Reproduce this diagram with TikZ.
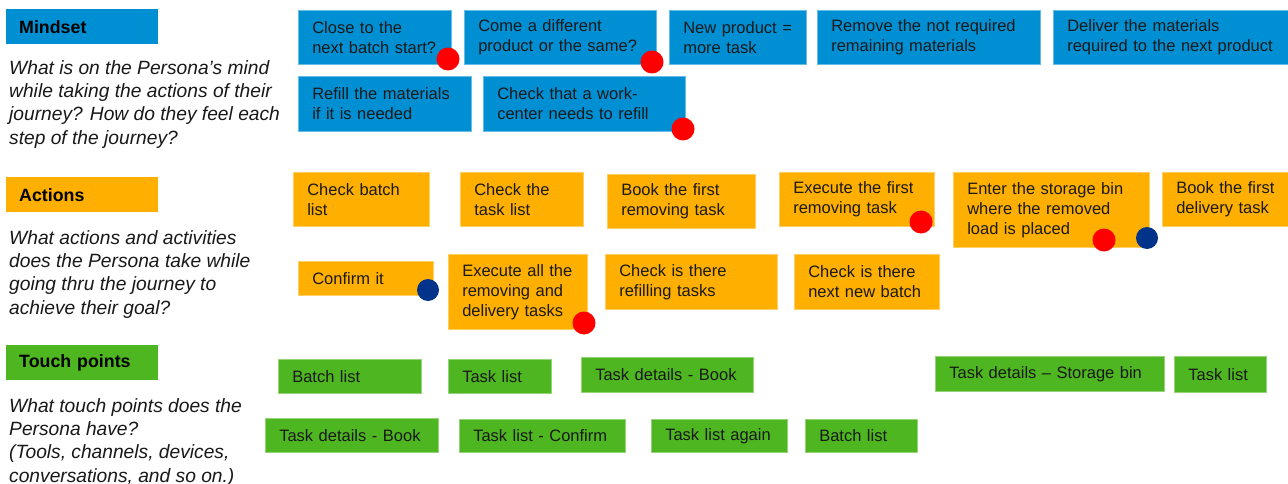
\documentclass[tikz,border=0pt]{standalone}
\usepackage{fontspec}
\setmainfont{Liberation Sans}
\usepackage{tikz}
\usetikzlibrary{positioning}

\definecolor{mindblue}{RGB}{0,143,211}
\definecolor{actorange}{RGB}{255,175,0}
\definecolor{touchgreen}{RGB}{78,182,32}
\definecolor{dotred}{RGB}{255,0,0}
\definecolor{dotnavy}{RGB}{0,51,137}

\begin{document}
\begin{tikzpicture}[x=1pt, y=-1pt,
    card/.style={rectangle, anchor=north west, align=left, inner xsep=14pt, inner ysep=0pt, line width=0.6pt, text=black!90, font=\fontsize{16.5}{20}\selectfont},
    mindcard/.style={card, fill=mindblue, draw=mindblue!60!white},
    actcard/.style={card, fill=actorange, draw=actorange!60!white},
    touchcard/.style={card, fill=touchgreen, draw=touchgreen!60!white},
    header/.style={rectangle, anchor=north west, align=left, inner xsep=13pt, inner ysep=0pt, text width=126pt, minimum height=35pt, text=black, font=\fontsize{17.8}{20}\selectfont\bfseries},
    question/.style={align=left, inner sep=0pt, text=black!90, font=\fontsize{19.2}{23.2}\selectfont\itshape},
    reddot/.style={circle, fill=dotred, inner sep=0pt, minimum size=23pt},
    navydot/.style={circle, fill=dotnavy, inner sep=0pt, minimum size=22pt}]

    \path[use as bounding box, fill=white] (0,0) rectangle (1288,484);

    % Row headers on the left
    \node [header, fill=mindblue] (mindset) at (6,9) {Mindset};
    \node [question, below right=16pt and 3pt of mindset.south west] (mindset-q) {
        What is on the Persona’s mind\\
        while taking the actions of their\\
        journey? How do they feel each\\
        step of the journey?
    };

    \node [header, fill=actorange] (actions) at (6,177) {Actions};
    \node [question, below right=18pt and 3pt of actions.south west] (actions-q) {
        What actions and activities\\
        does the Persona take while\\
        going thru the journey to\\
        achieve their goal?
    };

    \node [header, fill=touchgreen] (touch) at (6,345) {Touch points};
    \node [question, below right=18pt and 3pt of touch.south west] (touch-q) {
        What touch points does the\\
        Persona have?\\
        (Tools, channels, devices,\\
        conversations, and so on.)
    };

    % Mindset cards
    \node [mindcard, text width=125pt, minimum height=54pt] (close-batch) at (298,10) {Close to the\\next batch start?};
    \node [mindcard, text width=164pt, minimum height=54pt] (same-product) at (464,10) {Come a different\\product or the same?};
    \node [mindcard, text width=109pt, minimum height=54pt] (new-product) at (669,10) {New product =\\more task};
    \node [mindcard, text width=195pt, minimum height=54pt] (remove-rest) at (817,10) {Remove the not required\\remaining materials};
    \node [mindcard, text width=207pt, minimum height=54pt] (deliver-next) at (1053,10) {Deliver the materials\\required to the next product};
    \node [mindcard, text width=145pt, minimum height=55pt] (refill) at (298,76) {Refill the materials\\if it is needed};
    \node [mindcard, text width=174pt, minimum height=55pt] (check-refill) at (483,76) {Check that a work-\\center needs to refill};

    % Actions cards
    \node [actcard, text width=108pt, minimum height=54pt] (check-batch) at (293,172) {Check batch\\list};
    \node [actcard, text width=95pt, minimum height=54pt] (check-tasks) at (460,172) {Check the\\task list};
    \node [actcard, text width=120pt, minimum height=54pt] (book-remove) at (607,174) {Book the first\\removing task};
    \node [actcard, text width=127pt, minimum height=54pt] (exec-remove) at (779,172) {Execute the first\\removing task};
    \node [actcard, text width=168pt, minimum height=75pt] (enter-bin) at (953,172) {Enter the storage bin\\where the removed\\load is placed};
    \node [actcard, text width=112pt, minimum height=54pt] (book-deliver) at (1162,172) {Book the first\\delivery task};
    \node [actcard, text width=107pt, minimum height=34pt] (confirm) at (298,261) {Confirm it};
    \node [actcard, text width=111pt, minimum height=75pt] (exec-all) at (448,254) {Execute all the\\removing and\\delivery tasks};
    \node [actcard, text width=144pt, minimum height=55pt] (check-refilling) at (605,254) {Check is there\\refilling tasks};
    \node [actcard, text width=117pt, minimum height=55pt] (check-next) at (794,254) {Check is there\\next new batch};

    % Touch point cards
    \node [touchcard, text width=115pt, minimum height=34pt] (tp-batch) at (278,359) {Batch list};
    \node [touchcard, text width=75pt, minimum height=34pt] (tp-tasks) at (448,359) {Task list};
    \node [touchcard, text width=144pt, minimum height=35pt] (tp-book) at (581,357) {Task details - Book};
    \node [touchcard, text width=201pt, minimum height=35pt] (tp-bin) at (935,356) {Task details – Storage bin};
    \node [touchcard, text width=64pt, minimum height=36pt] (tp-tasks-end) at (1174,356) {Task list};
    \node [touchcard, text width=145pt, minimum height=34pt] (tp-book-2) at (265,418) {Task details - Book};
    \node [touchcard, text width=138pt, minimum height=33pt] (tp-confirm) at (459,419) {Task list - Confirm};
    \node [touchcard, text width=108pt, minimum height=33pt] (tp-again) at (651,419) {Task list again};
    \node [touchcard, text width=84pt, minimum height=33pt] (tp-batch-2) at (805,419) {Batch list};

    % Dots (pain points and highlights)
    \node [reddot] (dot-close) at (448,59) {};
    \node [reddot] (dot-same) at (652,62) {};
    \node [reddot] (dot-refill) at (683,129) {};
    \node [reddot] (dot-exec) at (921,222) {};
    \node [reddot] (dot-bin) at (1104,240) {};
    \node [navydot] (dot-bin-2) at (1147,238) {};
    \node [navydot] (dot-confirm) at (428,290) {};
    \node [reddot] (dot-exec-all) at (584,323) {};

\end{tikzpicture}
\end{document}
